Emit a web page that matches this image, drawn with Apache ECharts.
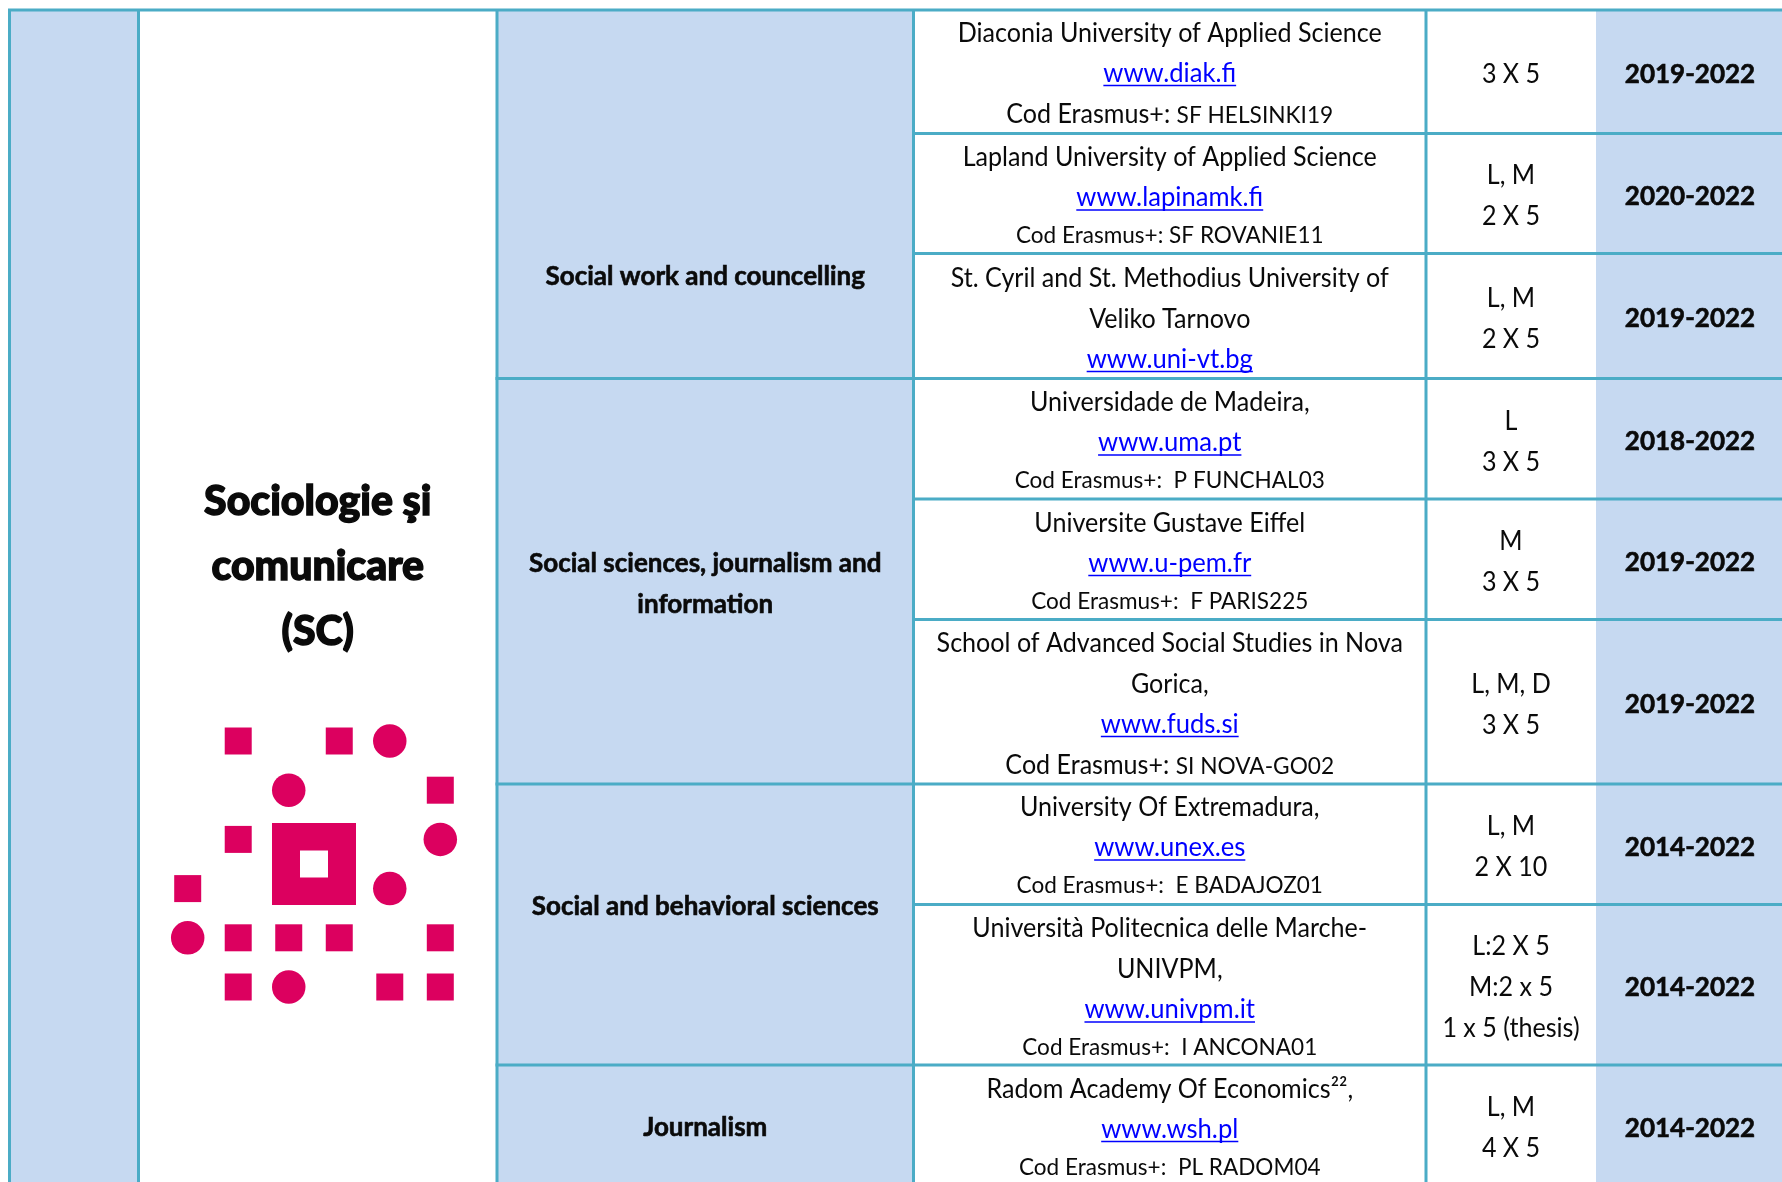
<!DOCTYPE html>
<html><head><meta charset="utf-8">
<style>html,body{margin:0;padding:0;background:#fff}#c{width:1782px;height:1182px}</style>
<script src="https://cdn.jsdelivr.net/npm/echarts@6/dist/echarts.min.js"></script>
</head><body><div id="c"></div>
<script>
// ---- table content ----
const facultyTitle = ['Sociologie şi', 'comunicare', '(SC)'];
const fieldLabels = [
  ['Social work and councelling'],
  ['Social sciences, journalism and', 'information'],
  ['Social and behavioral sciences'],
  ['Journalism']
];
const universities = [
  [['n','Diaconia University of Applied Science'],['l','www.diak.fi'],['m','Cod Erasmus+:','SF HELSINKI19']],
  [['n','Lapland University of Applied Science'],['l','www.lapinamk.fi'],['s','Cod Erasmus+: SF ROVANIE11']],
  [['n','St. Cyril and St. Methodius University of'],['n','Veliko Tarnovo'],['l','www.uni-vt.bg']],
  [['n','Universidade de Madeira,'],['l','www.uma.pt'],['s','Cod Erasmus+:  P FUNCHAL03']],
  [['n','Universite Gustave Eiffel'],['l','www.u-pem.fr'],['s','Cod Erasmus+:  F PARIS225']],
  [['n','School of Advanced Social Studies in Nova'],['n','Gorica,'],['l','www.fuds.si'],['m','Cod Erasmus+:','SI NOVA-GO02']],
  [['n','University Of Extremadura,'],['l','www.unex.es'],['s','Cod Erasmus+:  E BADAJOZ01']],
  [['n','Università Politecnica delle Marche-'],['n','UNIVPM,'],['l','www.univpm.it'],['s','Cod Erasmus+:  I ANCONA01']],
  [['n','Radom Academy Of Economics²²,'],['l','www.wsh.pl'],['s','Cod Erasmus+:  PL RADOM04']]
];
const mobilities = [
  ['3 X 5'],['L, M','2 X 5'],['L, M','2 X 5'],['L','3 X 5'],['M','3 X 5'],
  ['L, M, D','3 X 5'],['L, M','2 X 10'],['L:2 X 5','M:2 x 5','1 x 5 (thesis)'],['L, M','4 X 5']
];
const periods = ['2019-2022','2020-2022','2019-2022','2018-2022','2019-2022','2019-2022','2014-2022','2014-2022','2014-2022'];
// logo marks: [column, row]
const logoSquares = [[1,0],[3,0],[5,1],[1,2],[0,3],[1,4],[2,4],[3,4],[5,4],[1,5],[4,5],[5,5]];
const logoCircles = [[4,0],[2,1],[5,2],[4,3],[0,4],[2,5]];
const logoCentre = [[2.5,2.5]];

// ---- layout and style ----
const W = 1782, H = 1182;
const colEdges = [9.5,138.5,497,913.5,1426,1596,1782];
const rowEdges = [10,133.5,253.5,378.5,499,619.5,784,904.5,1065,1186];
const firstLineOffset = [23.5,24.5,25,24.5,24.5,24,24,24.5,24.5];
const fieldRowBreaks = [3,6,8];
const fieldCentreY = [277,584,907,1128];
const titleCentreY = 566.5, titleStep = 65;
const LINE = '#4BACC6', FILL = '#C6D9F1', INK = '#0a0a0a', LINK = '#0000FF', LOGO = '#DC005F';
const FONT = 'Lato';
const REG = {size:26, sx:0.965}, SMALL = {size:23.5, sx:0.96}, BOLD = {size:26, sx:1, extra:{stroke:INK,lineWidth:0.6}};
const LINK_SX = 0.985;
const LH = 41, LH_SMALL_BEFORE = 36.5;
const measure = document.createElement('canvas').getContext('2d');

function textEl(api, xv, yv, text, o){
  const p = api.coord([xv,yv]);
  return {type:'text', x:p[0], y:p[1], scaleX:o.sx||1, silent:true,
    style:Object.assign({text, fill:o.fill||INK, align:'center', verticalAlign:'middle',
      fontFamily:FONT, fontSize:o.size, fontWeight:o.weight||'normal'}, o.extra||{})};
}

const fillCells = [[0,0,1,9,FILL],[1,0,2,9,'#fff'],[2,0,3,9,FILL],[3,0,5,9,'#fff'],[5,0,6,9,FILL]];
const hLines = [[0,6,0]];
fieldRowBreaks.forEach(r=>hLines.push([2,6,r]));
rowEdges.forEach((_,r)=>{ if(r>0&&r<9&&!fieldRowBreaks.includes(r)) hLines.push([3,6,r]); });
const vLines = [0,1,2,3,4];

function renderFill(params, api){
  const c = fillCells[params.dataIndex];
  const a = api.coord([colEdges[c[0]],rowEdges[c[1]]]), b = api.coord([colEdges[c[2]],rowEdges[c[3]]]);
  return {type:'rect', shape:{x:a[0],y:a[1],width:b[0]-a[0],height:b[1]-a[1]}, style:{fill:c[4]}, silent:true};
}
function renderRule(params, api){
  const n = params.dataIndex; let a,b;
  if(n < hLines.length){ const h=hLines[n];
    a=api.coord([colEdges[h[0]]-1.5,rowEdges[h[2]]]); b=api.coord([colEdges[h[1]],rowEdges[h[2]]]);
  } else { const v=vLines[n-hLines.length];
    a=api.coord([colEdges[v],rowEdges[0]]); b=api.coord([colEdges[v],H]);
  }
  return {type:'line', shape:{x1:a[0],y1:a[1],x2:b[0],y2:b[1]}, style:{stroke:LINE,lineWidth:3}, silent:true};
}
function uniLines(api, cellIndex){
  const cx=(colEdges[3]+colEdges[4])/2, els=[]; let y=rowEdges[cellIndex]+firstLineOffset[cellIndex];
  universities[cellIndex].forEach(l=>{
    const kind=l[0];
    if(kind==='s') y-=LH-LH_SMALL_BEFORE;
    if(kind==='n') els.push(textEl(api,cx,y,l[1],REG));
    if(kind==='s') els.push(textEl(api,cx,y,l[1],SMALL));
    if(kind==='m') els.push(textEl(api,cx,y-0.5,'{a|'+l[1]+'} {b|'+l[2]+'}',{size:REG.size,sx:REG.sx,extra:{rich:{
      a:{fontFamily:FONT,fontSize:REG.size,fill:INK},b:{fontFamily:FONT,fontSize:SMALL.size,fill:INK}}}}));
    if(kind==='l'){
      els.push(textEl(api,cx,y-1,l[1],{size:REG.size,sx:LINK_SX,fill:LINK}));
      measure.font=REG.size+'px '+FONT;
      const w=measure.measureText(l[1]).width*LINK_SX/2;
      const a=api.coord([cx-w,y+11]), b=api.coord([cx+w,y+11]);
      els.push({type:'line',shape:{x1:a[0],y1:a[1],x2:b[0],y2:b[1]},style:{stroke:LINK,lineWidth:1.5},silent:true});
    }
    y+=LH;
  });
  return els;
}
const BOLD_WEIGHT = Object.assign({weight:'bold'},BOLD);
function renderRowText(params, api){
  const i=params.dataIndex, els=uniLines(api,i);
  const cy=(rowEdges[i]+rowEdges[i+1])/2+3;
  const m=mobilities[i];
  m.forEach((t,k)=>els.push(textEl(api,(colEdges[4]+colEdges[5])/2,cy+LH*(k-(m.length-1)/2),t,REG)));
  els.push(textEl(api,(colEdges[5]+colEdges[6])/2+1,cy,periods[i],BOLD_WEIGHT));
  return {type:'group',children:els};
}
function renderField(params, api){
  const i=params.dataIndex, L=fieldLabels[i], cx=(colEdges[2]+colEdges[3])/2;
  return {type:'group',children:L.map((t,k)=>textEl(api,cx,fieldCentreY[i]+LH*(k-(L.length-1)/2),t,BOLD_WEIGHT))};
}
function renderTitle(params, api){
  const k=params.dataIndex;
  return textEl(api,(colEdges[1]+colEdges[2])/2,titleCentreY+titleStep*(k-1),facultyTitle[k],{size:41,weight:900,extra:{stroke:INK,lineWidth:1.4}});
}
const idx = n => Array.from({length:n},(_,i)=>[i,i]);
const tableAxes = {xAxisIndex:0,yAxisIndex:0,coordinateSystem:'cartesian2d',clip:false,silent:true,encode:{x:-1,y:-1}};
const chart = echarts.init(document.getElementById('c'),null,{renderer:'canvas'});
chart.setOption({
  animation:false, backgroundColor:'#fff',
  grid:[
    {left:0,right:0,top:0,bottom:0},
    {left:187.7,right:W-440.3,top:741,bottom:H-987}
  ],
  xAxis:[
    {type:'value',min:0,max:W,show:false,gridIndex:0},
    {type:'value',min:0,max:5,show:false,gridIndex:1}
  ],
  yAxis:[
    {type:'value',min:0,max:H,inverse:true,show:false,gridIndex:0},
    {type:'value',min:0,max:5,inverse:true,show:false,gridIndex:1}
  ],
  series:[
    Object.assign({type:'custom',z:1,renderItem:renderFill,data:idx(fillCells.length)},tableAxes),
    Object.assign({type:'custom',z:2,renderItem:renderRule,data:idx(hLines.length+vLines.length)},tableAxes),
    Object.assign({type:'custom',z:3,renderItem:renderRowText,data:idx(universities.length)},tableAxes),
    Object.assign({type:'custom',z:3,renderItem:renderField,data:idx(fieldLabels.length)},tableAxes),
    Object.assign({type:'custom',z:3,renderItem:renderTitle,data:idx(facultyTitle.length)},tableAxes),
    {type:'scatter',xAxisIndex:1,yAxisIndex:1,z:4,clip:false,silent:true,symbol:'rect',symbolSize:27,itemStyle:{color:LOGO,opacity:1},data:logoSquares},
    {type:'scatter',xAxisIndex:1,yAxisIndex:1,z:4,clip:false,silent:true,symbol:'circle',symbolSize:33.5,itemStyle:{color:LOGO,opacity:1},data:logoCircles},
    {type:'scatter',xAxisIndex:1,yAxisIndex:1,z:4,clip:false,silent:true,symbol:'rect',symbolSize:[84,82],itemStyle:{color:LOGO,opacity:1},data:logoCentre},
    {type:'scatter',xAxisIndex:1,yAxisIndex:1,z:5,clip:false,silent:true,symbol:'rect',symbolSize:[28,27],itemStyle:{color:'#fff',opacity:1},data:logoCentre}
  ]
});
</script></body></html>
